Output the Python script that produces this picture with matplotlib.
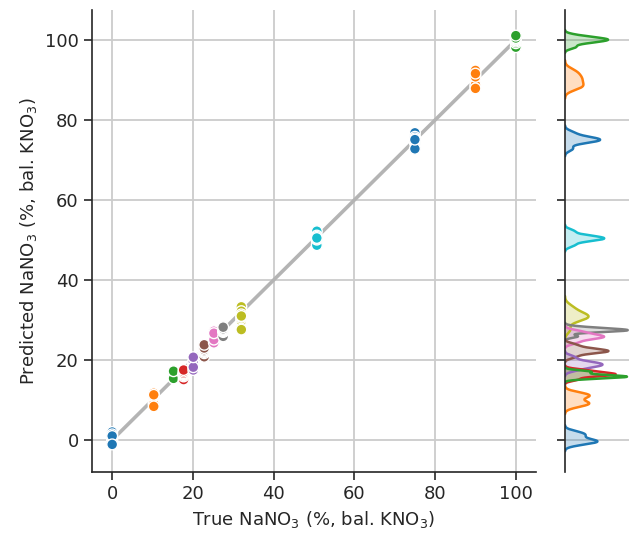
import matplotlib
matplotlib.use("Agg")
import matplotlib.pyplot as plt
import seaborn as sns
import pandas as pd

# true composition of each sample set (% NaNO3)
true_vals = [0, 10.3, 15.2, 17.7, 20.1, 22.8, 25.2, 27.5, 32.0, 50.7, 75.0, 90.0, 100.0]

# predicted values, one list per sample set
pred_0 = [2.0, 1.4, 0.2, -0.2, -0.4, -0.6, 1.0, -1.1]
pred_10 = [9.6, 10.6, 11.7, 9.2, 9.0, 11.0, 11.3, 8.4]
pred_15 = [15.6, 15.8, 15.9, 16.0, 16.3, 16.9, 15.4, 17.2]
pred_17 = [15.1, 15.9, 16.2, 16.4, 16.5, 16.7, 17.1, 17.5]
pred_20 = [19.0, 18.5, 18.8, 19.3, 19.7, 17.5, 18.2, 20.7]
pred_22 = [20.8, 21.7, 22.0, 22.2, 22.3, 22.6, 23.0, 23.8]
pred_25 = [25.5, 25.8, 25.9, 26.2, 27.2, 24.3, 25.1, 26.7]
pred_27 = [25.9, 27.0, 27.2, 27.4, 27.5, 27.6, 27.8, 28.2]
pred_32 = [33.3, 32.2, 29.8, 30.4, 31.4, 27.6, 30.8, 31.0]
pred_50 = [52.2, 51.1, 49.8, 48.7, 50.1, 50.3, 50.8, 50.5]
pred_75 = [76.8, 75.8, 75.4, 74.3, 74.7, 75.0, 72.8, 75.1]
pred_90 = [92.4, 89.6, 90.2, 88.3, 88.8, 90.8, 91.6, 87.9]
pred_100 = [98.2, 99.2, 99.6, 99.9, 100.1, 100.3, 100.5, 101.1]

preds = [pred_0, pred_10, pred_15, pred_17, pred_20, pred_22, pred_25,
         pred_27, pred_32, pred_50, pred_75, pred_90, pred_100]

rows = []
for i, (t, p) in enumerate(zip(true_vals, preds)):
    for v in p:
        rows.append({"true": t, "pred": v, "grp": i})
df = pd.DataFrame(rows)

sns.set_style("ticks", {"axes.grid": True})
plt.rcParams["font.family"] = ["DejaVu Sans"]
plt.rcParams["grid.linewidth"] = 1.3

pal = [sns.color_palette("tab10")[i % 10] for i in range(len(true_vals))]

W, H = 629, 535
fig = plt.figure(figsize=(W / 100, H / 100), dpi=100)
ax = fig.add_axes([92 / W, (H - 472) / H, (536 - 92) / W, (472 - 10) / H])
axm = fig.add_axes([565 / W, (H - 472) / H, (W - 565) / W, (472 - 10) / H], sharey=ax)

ax.plot([0, 100], [0, 100], color="#b4b4b4", lw=2.6, zorder=1)
sns.scatterplot(data=df, x="true", y="pred", hue="grp", palette=pal, s=60,
                edgecolor="white", linewidth=1.0, legend=False, ax=ax, zorder=3)

kde_kw = dict(data=df, y="pred", hue="grp", palette=pal, bw_adjust=0.8,
              legend=False, ax=axm)
sns.kdeplot(fill=True, alpha=0.25, linewidth=0, **kde_kw)
sns.kdeplot(fill=False, linewidth=1.8, **kde_kw)
peak = max(l.get_xdata().max() for l in axm.lines)
axm.set_xlim(0, peak * 1.02)

ax.set_xlim(-5, 105)
ax.set_ylim(-8, 107.5)
ax.set_xticks([0, 20, 40, 60, 80, 100])
ax.set_yticks([0, 20, 40, 60, 80, 100])
ax.tick_params(labelsize=13, length=6, width=1.2)
ax.set_xlabel("True NaNO$_3$ (%, bal. KNO$_3$)", fontsize=13)
ax.set_ylabel("Predicted NaNO$_3$ (%, bal. KNO$_3$)", fontsize=13)
for s in ["top", "right"]:
    ax.spines[s].set_visible(False)
for s in ["left", "bottom"]:
    ax.spines[s].set_linewidth(1.2)

axm.grid(axis="x", visible=False)
axm.set_xlabel("")
axm.set_ylabel("")
axm.tick_params(axis="y", labelleft=False, length=6, width=1.2)
axm.tick_params(axis="x", bottom=False, labelbottom=False)
for s in ["top", "right", "bottom"]:
    axm.spines[s].set_visible(False)
axm.spines["left"].set_linewidth(1.2)

fig.savefig("out.png", dpi=100)
